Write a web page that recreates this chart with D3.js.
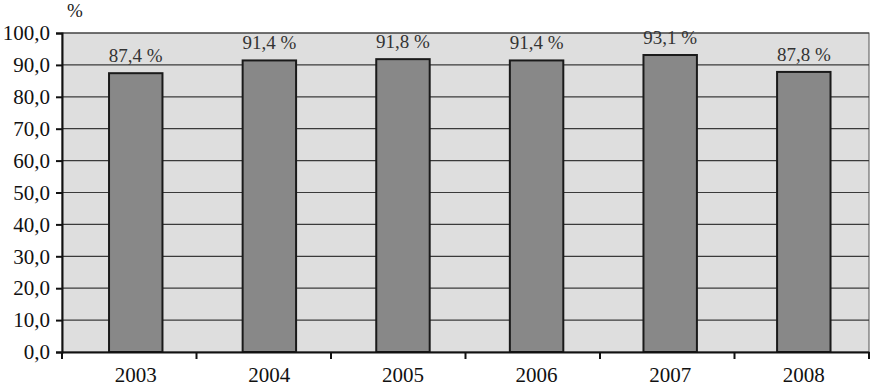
<!DOCTYPE html>
<html>
<head>
<meta charset="utf-8">
<script src="https://cdn.jsdelivr.net/npm/d3@7"></script>
<style>
  body { margin: 0; background: #fff; }
  text { font-family: "Liberation Serif", "DejaVu Serif", serif; fill: #1a1a1a; }
</style>
</head>
<body>
<script>
// données
const years = ["2003", "2004", "2005", "2006", "2007", "2008"];
const values = [87.4, 91.4, 91.8, 91.4, 93.1, 87.8];
const yTicks = [0, 10, 20, 30, 40, 50, 60, 70, 80, 90, 100];

const W = 874, H = 387;
const m = { left: 62, right: 5, top: 33, bottom: 35 };

const svg = d3.select("body").append("svg").attr("width", W).attr("height", H);

const x = d3.scaleBand().domain(years).range([m.left, W - m.right]).paddingInner(0.6).paddingOuter(0.32).align(0.55);
const y = d3.scaleLinear().domain([0, 100]).range([H - m.bottom, m.top]);

const fmt = v => v.toFixed(1).replace(".", ",");

// fond de la zone de tracé
svg.append("rect")
  .attr("x", m.left).attr("y", m.top)
  .attr("width", W - m.right - m.left).attr("height", y(0) - m.top)
  .attr("fill", "#dedede").attr("stroke", "#555").attr("stroke-width", 1);

// grille
svg.selectAll("line.grid").data(yTicks.slice(1)).enter().append("line")
  .attr("class", "grid")
  .attr("x1", m.left).attr("x2", W - m.right)
  .attr("y1", d => y(d)).attr("y2", d => y(d))
  .attr("stroke", "#3a3a3a").attr("stroke-width", 1.2);

// barres
svg.selectAll("rect.bar").data(values).enter().append("rect")
  .attr("class", "bar")
  .attr("x", (d, i) => x(years[i]))
  .attr("width", x.bandwidth())
  .attr("y", d => y(d))
  .attr("height", d => y(0) - y(d))
  .attr("fill", "#888").attr("stroke", "#1a1a1a").attr("stroke-width", 2);

// étiquettes de valeurs
svg.selectAll("text.val").data(values).enter().append("text")
  .attr("class", "val")
  .attr("x", (d, i) => x(years[i]) + x.bandwidth() / 2)
  .attr("y", d => y(d) - 11)
  .attr("text-anchor", "middle")
  .attr("font-size", 19)
  .style("fill", "#333")
  .text(d => fmt(d) + " %");

// axe Y
const yAxis = svg.append("g").attr("transform", `translate(${m.left},0)`)
  .call(d3.axisLeft(y).tickValues(yTicks).tickFormat(fmt).tickSize(6).tickPadding(6));
yAxis.select(".domain").attr("stroke", "#111").attr("stroke-width", 2);
yAxis.selectAll(".tick line").attr("stroke", "#111").attr("stroke-width", 2);
yAxis.selectAll("text").attr("font-size", 21).attr("font-family", "Liberation Serif, serif").style("fill", "#111");

// axe X
const xAxis = svg.append("g").attr("transform", `translate(0,${y(0)})`)
  .call(d3.axisBottom(x).tickSize(0).tickPadding(15));
xAxis.select(".domain").attr("stroke", "#111").attr("stroke-width", 2);
xAxis.selectAll("text").attr("font-size", 21).attr("font-family", "Liberation Serif, serif").style("fill", "#111");

// graduations entre catégories
const bounds = d3.range(years.length + 1).map(i => m.left + i * (W - m.right - m.left) / years.length);
svg.selectAll("line.xt").data(bounds).enter().append("line")
  .attr("class", "xt")
  .attr("x1", d => d).attr("x2", d => d)
  .attr("y1", y(0)).attr("y2", y(0) + 7)
  .attr("stroke", "#111").attr("stroke-width", 2);

// unité
svg.append("text").attr("x", 67).attr("y", 17).attr("font-size", 19).text("%");
</script>
</body>
</html>
